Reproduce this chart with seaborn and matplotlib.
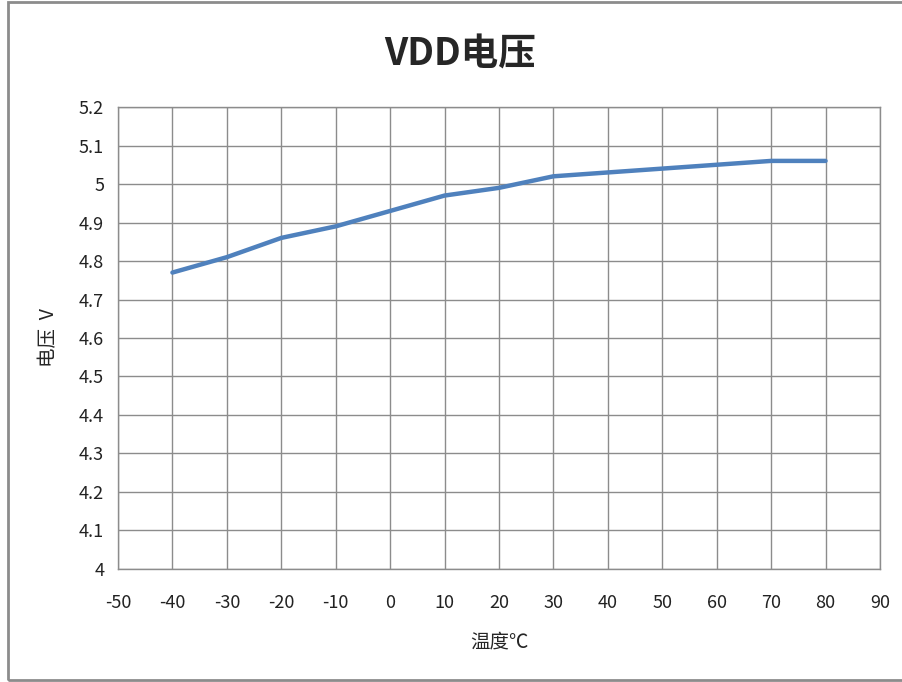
import numpy as np
import pandas as pd
import matplotlib.pyplot as plt
import seaborn as sns
from matplotlib.patches import Rectangle

# Data
temperature = [-40, -30, -20, -10, 0, 10, 20, 30, 40, 50, 60, 70, 80]
voltage = [4.77, 4.81, 4.86, 4.89, 4.93, 4.97, 4.99, 5.02, 5.03, 5.04, 5.05, 5.06, 5.06]
x_ticks = list(range(-50, 100, 10))
y_ticks = [4, 4.1, 4.2, 4.3, 4.4, 4.5, 4.6, 4.7, 4.8, 4.9, 5, 5.1, 5.2]
y_tick_labels = ['4', '4.1', '4.2', '4.3', '4.4', '4.5', '4.6', '4.7', '4.8', '4.9', '5', '5.1', '5.2']

df = pd.DataFrame({'temp': temperature, 'vdd': voltage})

sns.set_style('white')
plt.rcParams['font.family'] = ['Noto Sans CJK SC', 'DejaVu Sans']
plt.rcParams['axes.unicode_minus'] = False

fig = plt.figure(figsize=(9.03, 6.82), dpi=100)
ax = fig.add_axes([0.1307, 0.1657, 0.8438, 0.6774])

sns.lineplot(data=df, x='temp', y='vdd', ax=ax, color='#4F81BD', linewidth=3.2,
             solid_capstyle='round', solid_joinstyle='round')

ax.set_xlim(-50, 90)
ax.set_ylim(4, 5.2)
ax.set_xticks(x_ticks)
ax.set_yticks(y_ticks)
ax.set_yticklabels(y_tick_labels)
ax.grid(True, color='#8c8c8c', linewidth=1)
ax.set_axisbelow(True)
for s in ax.spines.values():
    s.set_color('#8c8c8c')
    s.set_linewidth(1)
ax.tick_params(axis='both', length=0, labelsize=13, colors='#222222')
ax.tick_params(axis='x', pad=18)
ax.tick_params(axis='y', pad=10)

ax.set_xlabel('温度℃', fontsize=14, labelpad=14)
ax.set_ylabel('电压  V', fontsize=14, labelpad=14)
fig.suptitle('VDD电压', fontsize=27, fontweight='bold', x=0.51, y=0.95)

# outer chart border
fig.patches.append(Rectangle((8 / 903, 2 / 682), 1.2, 678 / 682, transform=fig.transFigure,
                             fill=False, edgecolor='#8c8c8c', linewidth=2))

fig.savefig('out.png', dpi=100)
